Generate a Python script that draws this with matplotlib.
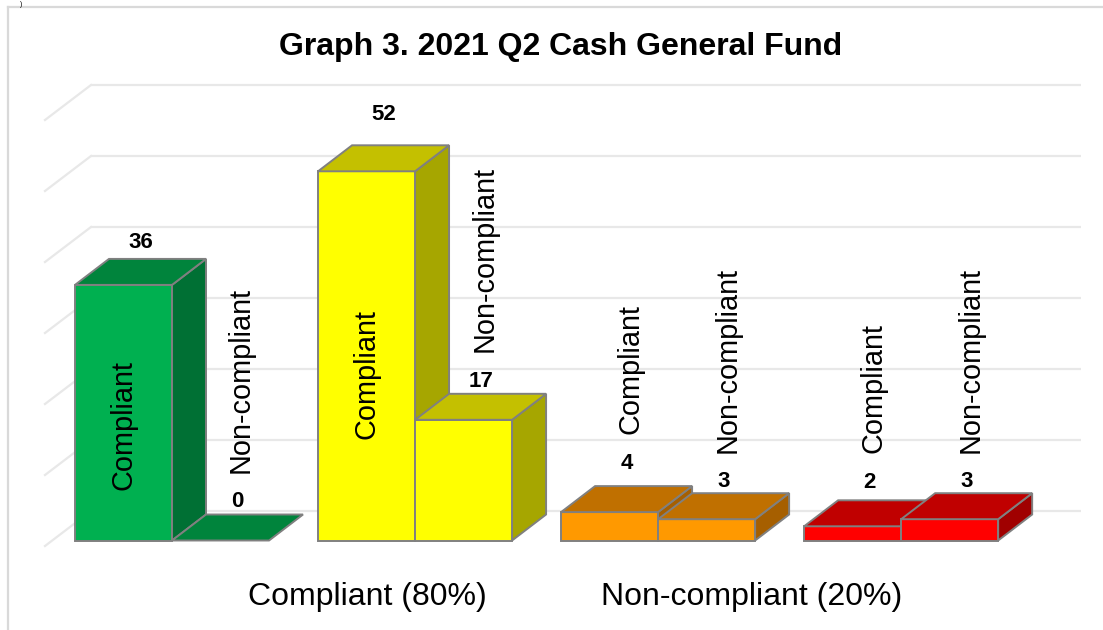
import matplotlib
matplotlib.use("Agg")
import matplotlib.pyplot as plt
from matplotlib.patches import Polygon
from matplotlib.lines import Line2D

# Chart data
title = "Graph 3. 2021 Q2 Cash General Fund"
group_labels = ["Compliant (80%)", "Non-compliant (20%)"]
bar_names = ["Compliant", "Non-compliant", "Compliant", "Non-compliant",
             "Compliant", "Non-compliant", "Compliant", "Non-compliant"]
values = [36, 0, 52, 17, 4, 3, 2, 3]
grid_values = [0, 10, 20, 30, 40, 50, 60]

# Colours per pair: (front, top, side)
pair_colors = [
    ("#00b050", "#00843c", "#007034"),
    ("#ffff00", "#c4c000", "#a6a600"),
    ("#ff9900", "#c07000", "#a65f00"),
    ("#ff0000", "#c00000", "#a00000"),
]
EDGE = "#808080"
GRID = "#e8e8e8"

# Layout (pixels of the 1103x630 canvas)
W, H = 1103, 630
PX_X = 98.0      # pixels per x unit (one bar width)
PX_Y = 7.1       # pixels per value unit
X0_PX = 75.0     # pixel column of x = 0
Y0_PX = 540.5    # pixel row of value 0 (front of bars)
PAIR_PITCH = 2.48
BAR_W = 0.99
DX, DY = 34 / PX_X, 26 / PX_Y          # bar depth
WALL_L, WALL_R = (91 - X0_PX) / PX_X, (1081 - X0_PX) / PX_X
SIDE_FRONT = (45 - X0_PX) / PX_X
WALL_DY, SIDE_DY = 29.5 / PX_Y, 35 / PX_Y
value_lift = [2.3, 1.8, 4.4, 1.8, 3.2, 1.6, 2.5, 1.6]

plt.rcParams["font.family"] = ["Liberation Sans", "DejaVu Sans"]

fig = plt.figure(figsize=(W / 100, H / 100), dpi=100)
fig.patch.set_facecolor("white")
ax = fig.add_axes([0, 0, 1, 1])
ax.set_xlim(-X0_PX / PX_X, (W - X0_PX) / PX_X)
ax.set_ylim(-(H - Y0_PX) / PX_Y, Y0_PX / PX_Y)
ax.axis("off")

# Back wall and side wall gridlines
for g in grid_values:
    yb = g + WALL_DY
    ax.plot([WALL_L, WALL_R], [yb, yb], color=GRID, lw=1.6, zorder=1, solid_capstyle="butt")
    ax.plot([SIDE_FRONT, WALL_L], [yb - SIDE_DY, yb], color=GRID, lw=1.6, zorder=1)

# 3D bars, drawn left to right so later bars cover earlier sides
for i, v in enumerate(values):
    pair, j = divmod(i, 2)
    front_c, top_c, side_c = pair_colors[pair]
    x0 = pair * PAIR_PITCH + j * BAR_W
    x1 = x0 + BAR_W
    z = 2 + i
    top = [(x0, v), (x1, v), (x1 + DX, v + DY), (x0 + DX, v + DY)]
    if v > 0:
        side = [(x1, 0), (x1 + DX, DY), (x1 + DX, v + DY), (x1, v)]
        front = [(x0, 0), (x1, 0), (x1, v), (x0, v)]
        ax.add_patch(Polygon(side, closed=True, fc=side_c, ec=EDGE, lw=1.4, zorder=z))
        ax.add_patch(Polygon(front, closed=True, fc=front_c, ec=EDGE, lw=1.4, zorder=z))
    ax.add_patch(Polygon(top, closed=True, fc=top_c, ec=EDGE, lw=1.4, zorder=z))

    # value label
    lx = x0 + BAR_W / 2 + DX / 2
    ly = v + DY + value_lift[i]
    ax.text(lx, ly, str(v), ha="center", va="center", fontsize=16,
            fontweight="bold", color="black", zorder=20)

    # series name label (rotated)
    if v >= 30:
        ax.text(x0 + BAR_W / 2, v * 0.45, bar_names[i], rotation=90,
                ha="center", va="center", fontsize=20.8, color="black", zorder=20)
    else:
        ax.text(x0 + BAR_W / 2 + 0.21, ly + 4.1, bar_names[i], rotation=90,
                ha="center", va="bottom", fontsize=20.8, color="black", zorder=20)

# Category labels along the bottom
for label, xp in zip(group_labels, [367, 752]):
    fig.text(xp / W, 1 - 597 / H, label, ha="center", va="center", fontsize=23)

# Title
fig.text(561 / W, 1 - 47 / H, title, ha="center", va="center",
         fontsize=23, fontweight="bold")

# Outer chart frame (left and top edges visible)
fig.add_artist(Line2D([8 / W, 8 / W], [0, 1 - 7 / H], color="#d9d9d9", lw=1.6,
                      transform=fig.transFigure))
fig.add_artist(Line2D([8 / W, 1], [1 - 7 / H, 1 - 7 / H], color="#d9d9d9", lw=1.6,
                      transform=fig.transFigure))
fig.text(20 / W, 1 - 1 / H, ")", ha="left", va="top", fontsize=5)

fig.savefig("out.png", dpi=100, facecolor="white")
